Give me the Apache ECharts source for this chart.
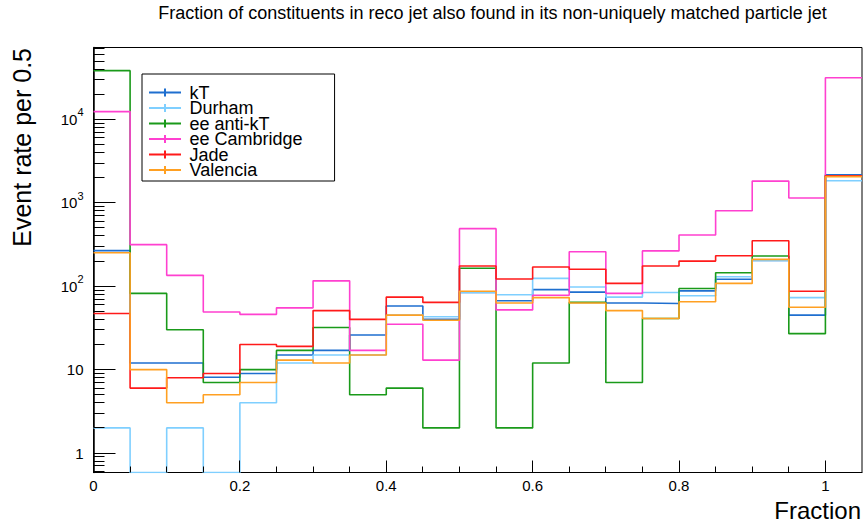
<!DOCTYPE html>
<html><head><meta charset="utf-8">
<script src="https://cdn.jsdelivr.net/npm/echarts@6/dist/echarts.min.js"></script>
<style>html,body{margin:0;padding:0;background:#fff}#c{width:865px;height:524px}</style>
</head><body><div id="c"></div>
<script>
// ---- data ----
const binEdges = [0, 0.05, 0.1, 0.15, 0.2, 0.25, 0.3, 0.35, 0.4, 0.45, 0.5, 0.55, 0.6, 0.65, 0.7, 0.75, 0.8, 0.85, 0.9, 0.95, 1.0, 1.05];
const seriesNames = ['kT', 'Durham', 'ee anti-kT', 'ee Cambridge', 'Jade', 'Valencia'];
const kT        = [267, 12, 12, 8.1, 9, 15, 17, 26, 58, 40, 84, 67, 91, 85, 63, 62, 88, 121, 204, 45, 2170];
const durham    = [2, 0, 2, 0, 4, 12, 15, 15, 45, 43, 84, 79, 124, 98, 74, 84, 77, 130, 204, 73, 1840];
const eeAntiKT  = [38400, 82, 30, 7, 10, 17, 32, 5, 6, 2, 164, 2, 12, 64, 7, 41, 94, 145, 230, 27, 2110];
const eeCambridge = [12400, 315, 135, 49, 46, 55, 116, 17, 35, 13, 490, 52, 78, 259, 82, 265, 411, 804, 1820, 1140, 31600];
const jade      = [47, 6, 8, 9, 20, 19, 51, 40, 74, 64, 175, 122, 170, 160, 108, 175, 200, 232, 351, 87, 2110];
const valencia  = [252, 10, 4, 5, 7, 13, 12, 15, 45, 39, 87, 63, 73, 63, 51, 41, 65, 108, 210, 56, 2060];
const xTickLabels = [0, 0.2, 0.4, 0.6, 0.8, 1];
const yTickLabels = [1, 10, 100, 1000, 10000];

// ---- settings ----
const X_MIN = 0, X_MAX = 1.05, Y_MIN = 0.584, Y_MAX = 72800;
const FONT = 'Liberation Sans, Arial, Helvetica, sans-serif';
const colors = ['#1f6fcf', '#7fcfff', '#1a9a1a', '#ff40d0', '#ff1a1a', '#ffa022'];
const allValues = [kT, durham, eeAntiKT, eeCambridge, jade, valencia];

function stepData(vals) {
  const pts = [];
  for (let i = 0; i < binEdges.length; i++) {
    const v = vals[Math.min(i, vals.length - 1)];
    pts.push([binEdges[i], v > 0 ? v : Y_MIN]);
  }
  return pts;
}
const near = (a, b) => Math.abs(a - b) <= 1e-9 * Math.max(1, Math.abs(b));
const xMinor = binEdges.filter(v => v > X_MIN && v < X_MAX - 1e-9 && !xTickLabels.some(t => near(v, t)));
const yMinor = [];
[0.1].concat(yTickLabels).forEach(d => { for (let k = 2; k <= 9; k++) { const v = k * d; if (v > Y_MIN && v < Y_MAX) yMinor.push(v); } });

const series = seriesNames.map((n, i) => ({
  name: n, type: 'line', step: 'end', showSymbol: false, symbol: 'none',
  data: stepData(allValues[i]), color: colors[i],
  lineStyle: { width: 1.6, color: colors[i] }, z: 2 + i, animation: false, silent: true
}));

series.push({
  type: 'custom', name: 'xticks', silent: true, clip: false, z: 20, animation: false,
  data: xTickLabels.concat(xMinor).map(v => [v, Y_MIN]),
  renderItem: (params, api) => {
    const v = api.value(0);
    const p = api.coord([v, Y_MIN]);
    const major = xTickLabels.some(t => near(v, t));
    const L = major ? 12 : 6;
    const x = Math.round(p[0] - 0.5) + 0.5;
    return { type: 'line', shape: { x1: x, y1: p[1], x2: x, y2: p[1] - L }, style: { stroke: '#000', lineWidth: 1 } };
  }
});
series.push({
  type: 'custom', name: 'yticks', silent: true, clip: false, z: 20, animation: false,
  data: yTickLabels.concat(yMinor).map(v => [X_MIN, v]),
  renderItem: (params, api) => {
    const v = api.value(1);
    const p = api.coord([X_MIN, v]);
    const major = yTickLabels.some(t => near(v, t));
    const L = major ? 22 : 11;
    const y = Math.round(p[1] - 0.5) + 0.5;
    return { type: 'line', shape: { x1: p[0], y1: y, x2: p[0] + L, y2: y }, style: { stroke: '#000', lineWidth: 1 } };
  }
});

const chart = echarts.init(document.getElementById('c'), null, { renderer: 'svg' });
chart.setOption({
  animation: false,
  backgroundColor: '#fff',
  grid: { left: 93.5, top: 47.5, width: 769.5, height: 425, show: true, borderColor: '#000', borderWidth: 1, containLabel: false },
  xAxis: {
    type: 'value', min: X_MIN, max: X_MAX, interval: 0.2,
    axisLine: { show: true, onZero: false, lineStyle: { color: '#000', width: 1 } },
    axisTick: { show: false }, splitLine: { show: false },
    axisLabel: {
      color: '#000', fontSize: 15, fontFamily: FONT, margin: 5, showMaxLabel: true, showMinLabel: true,
      formatter: v => { const t = xTickLabels.find(t => near(v, t)); return t === undefined ? '' : String(t); }
    }
  },
  yAxis: {
    type: 'log', logBase: 10, min: Y_MIN, max: Y_MAX,
    axisLine: { show: true, lineStyle: { color: '#000', width: 1.5 } },
    axisTick: { show: false }, splitLine: { show: false }, minorTick: { show: false },
    axisLabel: {
      color: '#000', fontSize: 15, fontFamily: FONT, margin: 10, showMinLabel: true, showMaxLabel: true,
      formatter: v => {
        const t = yTickLabels.find(t => near(v, t));
        if (t === undefined) return '';
        const e = Math.round(Math.log10(t));
        if (e === 0) return '1';
        if (e === 1) return '10';
        return '10{sup|' + e + '}';
      },
      rich: { sup: { fontSize: 11, fontFamily: FONT, color: '#000', padding: [0, 0, 14, 0] } }
    }
  },
  legend: {
    orient: 'vertical', left: 142, top: 74, data: seriesNames, selectedMode: false,
    icon: 'path://M0,3L32,3L32,5L0,5ZM15,0L17,0L17,8L15,8Z',
    itemWidth: 33, itemHeight: 8, itemGap: -2.5, padding: [9.5, 32, 2, 7],
    borderColor: '#000', borderWidth: 1, backgroundColor: '#fff',
    textStyle: { fontSize: 18, fontFamily: FONT, color: '#000', padding: [0, 0, 0, 3] }
  },
  graphic: [
    { type: 'text', x: 492.5, y: 13, silent: true,
      style: { text: 'Fraction of constituents in reco jet also found in its non-uniquely matched particle jet', fontSize: 18, fontFamily: FONT, fill: '#000', textAlign: 'center', textVerticalAlign: 'middle' } },
    { type: 'text', x: 22, y: 48, rotation: Math.PI / 2, silent: true,
      style: { text: 'Event rate per 0.5', fontSize: 25, fontFamily: FONT, fill: '#000', textAlign: 'right', textVerticalAlign: 'middle' } },
    { type: 'text', x: 861, y: 510, silent: true,
      style: { text: 'Fraction', fontSize: 24, fontFamily: FONT, fill: '#000', textAlign: 'right', textVerticalAlign: 'middle' } }
  ],
  series: series
});
</script></body></html>
